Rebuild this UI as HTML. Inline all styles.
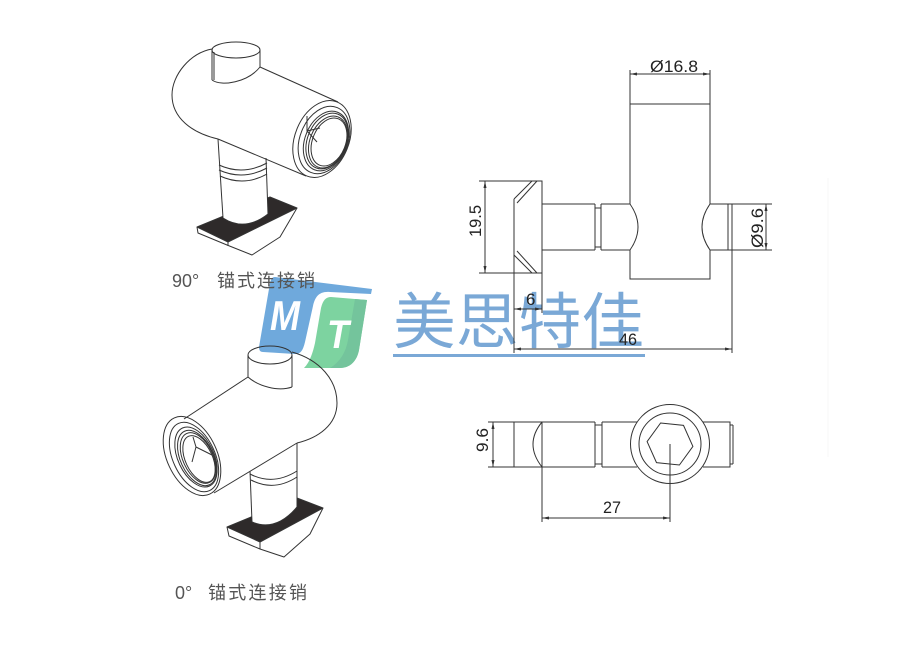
<!DOCTYPE html>
<html><head><meta charset="utf-8"><style>
html,body{margin:0;padding:0;background:#fff;}
svg{display:block;}
</style></head><body>
<svg width="900" height="650" viewBox="0 0 900 650" xmlns="http://www.w3.org/2000/svg">
<defs>
<marker id="ar" viewBox="0 0 10 10" refX="10" refY="5" markerWidth="7" markerHeight="3" markerUnits="userSpaceOnUse" orient="auto-start-reverse" preserveAspectRatio="none"><path d="M0,0L10,5L0,10z" fill="#333"/></marker>
</defs>
<rect width="900" height="650" fill="#fff"/>
<line x1="828" y1="178" x2="828" y2="457" stroke="#f7f7f7" stroke-width="1"/>

<!-- Logo -->
<path d="M275,277 L372,289 L371,294 L330,292 C319,291 315,297 313,306 L305,342 C303,350 301,354 295,354 L263,352 C260,352 259,350 259,347 L270,283 C271,279 272,277 275,277 Z" fill="#6fa9dc"/>
<path d="M331,297 L367,300 L359,350 C357,361 350,368 340,368 L304,368 C310,362 313,352 315,343 L321,308 C323,300 326,297 331,297 Z" fill="#7dd3a0"/>
<path d="M355,299 L367,300 L359,350 C357,361 350,368 340,368 L330,368 C340,362 346,352 348,340 Z" fill="#74c49c"/>
<text x="270" y="330" font-family="Liberation Sans, sans-serif" font-weight="bold" font-style="italic" font-size="42" fill="#fff" textLength="30" lengthAdjust="spacingAndGlyphs">M</text>
<text x="327" y="348" font-family="Liberation Sans, sans-serif" font-weight="bold" font-style="italic" font-size="40" fill="#fff" textLength="22" lengthAdjust="spacingAndGlyphs">T</text>

<text x="393" y="343" font-family="Liberation Sans, 'Noto Sans CJK SC', sans-serif" font-size="61" fill="#7aa8d6" textLength="251" lengthAdjust="spacingAndGlyphs">美思特佳</text>
<rect x="393" y="354" width="252" height="3" fill="#7aa8d6"/>

<!-- Top-left isometric drawing -->
<g stroke="#333" stroke-width="1" fill="none" stroke-linejoin="round">
 <polygon points="197,227 270,197 297,208 228,242" fill="#2e2a2a"/>
 <path d="M197,227 L198,233 L227,245 L252,255 L280,237 L297,208"/>
 <path d="M228,242 L228,246"/>
 <path d="M218,139 L266,158 L268,214 Q245,232 223,218 Z" fill="#fff" stroke="none"/>
 <path d="M218,139 L223,218"/>
 <path d="M266,158 L268,214"/>
 <path d="M223,218 Q245,232 268,214"/>
 <path d="M219,165 Q243,176 267,163"/>
 <path d="M219,170 Q243,181 267,168"/>
 <path d="M220,176 Q244,187 267,174"/>
 <ellipse cx="236" cy="50" rx="24" ry="8"/>
 <path d="M212,50 V80"/>
 <path d="M214,52 V80"/>
 <path d="M260,50 V67"/>
 <path d="M212,80 C222,87 248,82 260,67"/>
 <path d="M260,67 L338,102"/>
 <path d="M212,49 C190,53 172,75 172,95 C172,118 192,133 218,139"/>
 <path d="M218,139 L306,176"/>
 <ellipse cx="322" cy="139" rx="27" ry="40" transform="rotate(22 322 139)"/>
 <ellipse cx="324" cy="140" rx="24" ry="35" transform="rotate(22 324 140)"/>
 <ellipse cx="326" cy="141" rx="21" ry="31" transform="rotate(22 326 141)"/>
 <ellipse cx="327" cy="141" rx="19.5" ry="29" transform="rotate(22 327 141)"/>
 <ellipse cx="328" cy="142" rx="18" ry="27" transform="rotate(22 328 142)"/>
 <ellipse cx="329" cy="142" rx="16.5" ry="25" transform="rotate(22 329 142)"/>
 <path d="M307,116 V131 L320,128"/>
 <path d="M307,131 L317,142"/>
</g>
<text x="172" y="287" font-family="Liberation Sans, sans-serif" font-size="18" fill="#555">90°</text>
<text x="217" y="287" font-family="Liberation Sans, 'Noto Sans CJK SC', sans-serif" font-size="18" fill="#555" textLength="98" lengthAdjust="spacing">锚式连接销</text>

<!-- Bottom-left isometric drawing -->
<g stroke="#333" stroke-width="1" fill="none" stroke-linejoin="round">
 <polygon points="227,527 297,498 323,508 260,542" fill="#2e2a2a"/>
 <path d="M227,527 L229,536 L260,549 L284,557 L310,534 L323,508"/>
 <path d="M260,542 L260,549"/>
 <path d="M250,471 L297,443 L297,507 Q276,532 252,522 Z" fill="#fff" stroke="none"/>
 <path d="M250,471 L252,522"/>
 <path d="M297,443 V507"/>
 <path d="M252,522 Q276,532 297,507"/>
 <path d="M250,474 Q273,486 297,471"/>
 <path d="M251,480 Q274,492 297,477"/>
 <ellipse cx="270" cy="355" rx="22" ry="9"/>
 <path d="M248,355 V377"/>
 <path d="M292,355 V387"/>
 <path d="M248,377 C258,386 278,392 292,387"/>
 <path d="M292,352 C320,360 337,380 337,403 C337,425 318,438 297,443"/>
 <path d="M248,377 L184,419"/>
 <path d="M297,443 L214,493"/>
 <ellipse cx="192" cy="456" rx="25" ry="42" transform="rotate(-25 192 456)"/>
 <ellipse cx="194" cy="457" rx="21" ry="37" transform="rotate(-25 194 457)"/>
 <ellipse cx="196" cy="457" rx="18" ry="32" transform="rotate(-25 196 457)"/>
 <ellipse cx="197" cy="458" rx="16.5" ry="29.5" transform="rotate(-25 197 458)"/>
 <ellipse cx="198" cy="458" rx="15" ry="27" transform="rotate(-25 198 458)"/>
 <ellipse cx="199" cy="459" rx="13.5" ry="25" transform="rotate(-25 199 459)"/>
 <path d="M193,437 L196,447 L212,455"/>
 <path d="M196,447 L192,462"/>
</g>
<text x="175" y="599" font-family="Liberation Sans, sans-serif" font-size="18" fill="#555">0°</text>
<text x="208" y="599" font-family="Liberation Sans, 'Noto Sans CJK SC', sans-serif" font-size="18" fill="#555" textLength="99" lengthAdjust="spacing">锚式连接销</text>

<!-- Right top orthographic drawing -->
<g stroke="#333" stroke-width="1" fill="none">
 <path d="M630,70 V104 M710,70 V104"/>
 <line x1="630" y1="74" x2="710" y2="74" marker-start="url(#ar)" marker-end="url(#ar)"/>
 <path d="M630,204 V104 H710 V204"/>
 <path d="M710,250 V279 H630 V250"/>
 <path d="M630,204 Q646,227 630,250"/>
 <path d="M710,204 Q694,227 710,250"/>
 <path d="M542,204 H595 M542,250 H595"/>
 <path d="M595,204 V250 M601,204 V250"/>
 <path d="M595,208 H601 M595,247 H601"/>
 <path d="M601,204 H630 M601,250 H630"/>
 <path d="M710,204 H732 V250 H710"/>
 <path d="M728,204 V250"/>
 <path d="M479,181 H542 V313"/>
 <path d="M479,273 H542"/>
 <path d="M514,199 V353"/>
 <path d="M514,199 L532,181 M517,203 L537,181 M514,255 L532,273 M517,251 L537,273"/>
 <line x1="485" y1="181" x2="485" y2="273" marker-start="url(#ar)" marker-end="url(#ar)"/>
 <line x1="514" y1="309" x2="542" y2="309" marker-start="url(#ar)" marker-end="url(#ar)"/>
 <path d="M732,250 V353"/>
 <line x1="514" y1="349" x2="732" y2="349" marker-start="url(#ar)" marker-end="url(#ar)"/>
 <path d="M732,204 H772 M732,250 H772"/>
 <line x1="766" y1="204" x2="766" y2="250" marker-start="url(#ar)" marker-end="url(#ar)"/>
</g>
<g font-family="Liberation Sans, sans-serif" fill="#222" font-size="17">
 <text x="650" y="72" textLength="48" lengthAdjust="spacingAndGlyphs">Ø16.8</text>
 <text x="0" y="0" transform="translate(481 221) rotate(-90)" text-anchor="middle" textLength="32" lengthAdjust="spacingAndGlyphs">19.5</text>
 <text x="0" y="0" transform="translate(763 228) rotate(-90)" text-anchor="middle" textLength="40" lengthAdjust="spacingAndGlyphs">Ø9.6</text>
 <text x="526" y="305">6</text>
 <text x="619" y="345" textLength="18" lengthAdjust="spacingAndGlyphs">46</text>
 <text x="0" y="0" transform="translate(488 440) rotate(-90)" text-anchor="middle" textLength="24" lengthAdjust="spacingAndGlyphs">9.6</text>
 <text x="603" y="513" textLength="18" lengthAdjust="spacingAndGlyphs">27</text>
</g>

<!-- Right bottom orthographic drawing -->
<g stroke="#333" stroke-width="1" fill="none">
 <path d="M488,422 H514 M488,467 H514"/>
 <line x1="493" y1="422" x2="493" y2="467" marker-start="url(#ar)" marker-end="url(#ar)"/>
 <path d="M514,422 H595 M602,422 H637"/>
 <path d="M514,467 H595 M602,467 H637"/>
 <path d="M595,422 V467 M602,422 V467"/>
 <path d="M595,425 H602 M595,464 H602"/>
 <path d="M514,422 V467"/>
 <path d="M542,422 V522"/>
 <path d="M542,422 Q524,444 542,467"/>
 <circle cx="670" cy="444" r="39.5"/>
 <circle cx="670" cy="444" r="31"/>
 <path d="M703,422 H730 V467 H703"/>
 <path d="M733,425 V464 M730,425 H733 M730,464 H733"/>
 <polygon points="660.6,423 683.5,425.4 692.9,446.4 679.4,465 656.5,462.6 647.1,441.6"/>
 <path d="M670,444 V522"/>
 <line x1="542" y1="518" x2="670" y2="518" marker-start="url(#ar)" marker-end="url(#ar)"/>
</g>
</svg>
</body></html>
